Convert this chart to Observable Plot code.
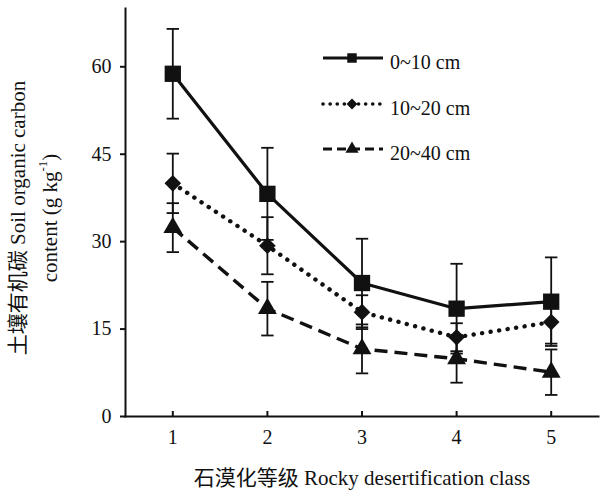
<!DOCTYPE html>
<html><head><meta charset="utf-8">
<script src="https://cdn.jsdelivr.net/npm/d3@7"></script>
<script src="https://cdn.jsdelivr.net/npm/@observablehq/plot@0.6"></script>
<style>body{margin:0;background:#fff} svg{display:block}</style>
</head><body><div id="chart"></div>
<script>
// ---- data ----
const classes = [1, 2, 3, 4, 5];
const seriesNames = ["0~10 cm", "10~20 cm", "20~40 cm"];
const soc0_10  = [58.8, 38.2, 22.9, 18.5, 19.7];
const err0_10  = [7.7, 7.9, 7.6, 7.7, 7.6];
const soc10_20 = [40.0, 29.3, 17.9, 13.6, 16.2];
const err10_20 = [5.1, 4.9, 2.9, 2.4, 3.7];
const soc20_40 = [32.4, 18.5, 11.6, 9.9, 7.6];
const err20_40 = [4.2, 4.6, 4.2, 4.1, 3.9];
const yTicks = [0, 15, 30, 45, 60];
const xTicks = [1, 2, 3, 4, 5];
const xLabel = "石漠化等级 Rocky desertification class";
const yLabel1 = "土壤有机碳 Soil organic carbon";
const yLabel2 = "content (g kg";

const font = '"Liberation Serif","Times New Roman","Noto Sans CJK SC",serif';
const ink = "#111";

const values = [soc0_10, soc10_20, soc20_40];
const errors = [err0_10, err10_20, err20_40];
const styles = [
  {symbol: "square",   r: 9.2, dash: null,       width: 3.2, lineCap: "round"},
  {symbol: "diamond2", r: 7.5, dash: "0.1 8.5",  width: 4.4, lineCap: "round"},
  {symbol: "triangle", r: 7.0, dash: "13 7",     width: 3.4, lineCap: "butt"}
];
const capSymbol = {draw(ctx, size) { const w = Math.sqrt(size) / 2; ctx.moveTo(-w, 0); ctx.lineTo(w, 0); }};

const series = seriesNames.map((name, i) => classes.map((c, j) => ({cls: c, series: name, v: values[i][j], e: errors[i][j]})));

const marks = [
  Plot.frame({anchor: "left", stroke: ink, strokeWidth: 2}),
  Plot.frame({anchor: "bottom", stroke: ink, strokeWidth: 2}),
  Plot.axisY({ticks: yTicks, tickSize: 5, tickPadding: 9, fontSize: 20, fontFamily: font, tickFormat: d => d, strokeWidth: 2, label: null}),
  Plot.axisX({ticks: xTicks, tickSize: 0, tickPadding: 13, fontSize: 20, fontFamily: font, tickFormat: d => d, label: null}),
  Plot.tickX(xTicks, {x: d => d, insetTop: 403, stroke: ink, strokeWidth: 2}),
  Plot.text([xLabel], {frameAnchor: "bottom", dy: 68, text: d => d, fontSize: 21, fontFamily: font, fill: ink})
];
series.forEach((rows, i) => {
  const s = styles[i];
  marks.push(Plot.line(rows, {x: "cls", y: "v", stroke: ink, strokeWidth: s.width, strokeDasharray: s.dash, strokeLinecap: s.lineCap}));
});
series.forEach((rows) => {
  marks.push(Plot.ruleX(rows, {x: "cls", y1: d => d.v - d.e, y2: d => d.v + d.e, stroke: ink, strokeWidth: 1.8}));
  marks.push(Plot.dot(rows, {x: "cls", y: d => d.v + d.e, symbol: capSymbol, r: 7, stroke: ink, strokeWidth: 1.8, fill: "none"}));
  marks.push(Plot.dot(rows, {x: "cls", y: d => d.v - d.e, symbol: capSymbol, r: 7, stroke: ink, strokeWidth: 1.8, fill: "none"}));
});
series.forEach((rows, i) => {
  const s = styles[i];
  marks.push(Plot.dot(rows, {x: "cls", y: "v", symbol: s.symbol, r: s.r, fill: ink, stroke: "none"}));
});

const chart = Plot.plot({
  width: 601, height: 492,
  marginLeft: 125, marginRight: 3, marginTop: 8, marginBottom: 76,
  x: {domain: [0.5, 5.5], label: null},
  y: {domain: [0, 70], label: null},
  style: {fontFamily: font, fontSize: "20px", color: ink, background: "white"},
  marks
});
document.getElementById("chart").appendChild(chart);

// ---- y label (two rotated lines) ----
const svg = d3.select(chart);
const cy = 218;
svg.append("text").attr("transform", `translate(18,${cy}) rotate(-90)`)
  .attr("text-anchor", "middle").attr("dominant-baseline", "central")
  .style("font-family", font).style("font-size", "21px").attr("fill", ink).text(yLabel1);
const t2 = svg.append("text").attr("transform", `translate(50,${cy}) rotate(-90)`)
  .attr("text-anchor", "middle").attr("dominant-baseline", "central")
  .style("font-family", font).style("font-size", "21px").attr("fill", ink);
t2.append("tspan").text(yLabel2);
t2.append("tspan").style("font-size", "13px").attr("dy", -8).text("-1");
t2.append("tspan").attr("dy", 8).text(")");

// ---- legend ----
const legendRows = [58, 104, 149];
const lx1 = 323, lx2 = 383, lmx = 352, ltx = 390;
const legendSym = [d3.symbolSquare, d3.symbolDiamond2, d3.symbolTriangle];
const legendSize = [90, 75, 75];
const legendDash = [null, "0.1 7", "9 5"];
const legendWidth = [3, 3.6, 3];
const lg = svg.append("g");
seriesNames.forEach((name, i) => {
  const y = legendRows[i];
  const ln = lg.append("line").attr("x1", lx1).attr("x2", lx2).attr("y1", y).attr("y2", y)
    .attr("stroke", ink).attr("stroke-width", legendWidth[i])
    .attr("stroke-linecap", i === 1 ? "round" : "butt");
  if (legendDash[i]) ln.attr("stroke-dasharray", legendDash[i]);
  lg.append("path").attr("d", d3.symbol(legendSym[i], legendSize[i])())
    .attr("transform", `translate(${lmx},${y})`).attr("fill", ink);
  lg.append("text").attr("x", ltx).attr("y", y + 4).attr("text-anchor", "start").attr("dominant-baseline", "central")
    .style("font-family", font).style("font-size", "20px").attr("fill", ink).text(name);
});
</script>
</body></html>
